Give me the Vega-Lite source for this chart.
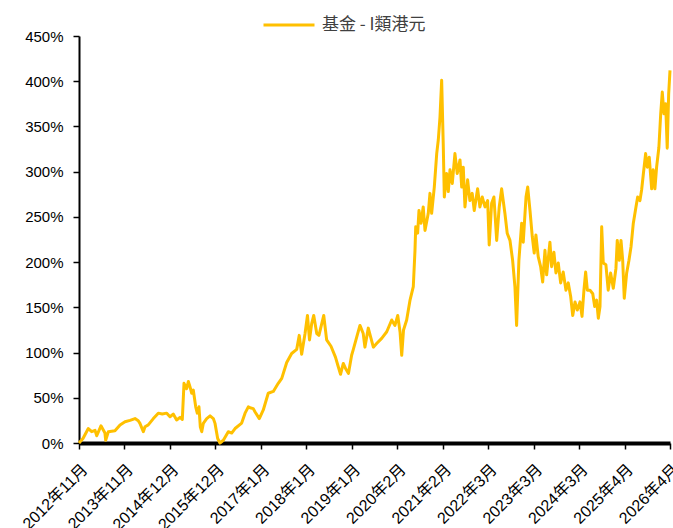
{
  "$schema": "https://vega.github.io/schema/vega-lite/v6.json",
  "autosize": {"type": "none"},
  "padding": {"left": 79, "top": 36, "right": 3, "bottom": 85},
  "width": 591,
  "height": 407,
  "background": "white",
  "config": {
    "view": {"stroke": null},
    "font": "Liberation Sans, Noto Sans CJK TC, sans-serif"
  },
  "data": {"values": [
    {"d":"2012-11-18","v":0},{"d":"2012-12-21","v":5},{"d":"2013-02-03","v":16},{"d":"2013-03-03","v":12.5},
    {"d":"2013-03-31","v":14},{"d":"2013-04-14","v":8},{"d":"2013-05-19","v":19},{"d":"2013-06-21","v":11},
    {"d":"2013-06-27","v":3},{"d":"2013-07-19","v":12.5},{"d":"2013-09-12","v":13.6},{"d":"2013-10-24","v":20},
    {"d":"2013-12-04","v":23.5},{"d":"2014-01-15","v":25},{"d":"2014-02-25","v":27},{"d":"2014-03-24","v":24.6},
    {"d":"2014-04-07","v":21.7},{"d":"2014-05-05","v":12.5},{"d":"2014-05-19","v":18},{"d":"2014-06-15","v":20},
    {"d":"2014-07-27","v":27},{"d":"2014-09-06","v":33},{"d":"2014-10-09","v":32},{"d":"2014-11-15","v":33},
    {"d":"2014-12-12","v":29},{"d":"2015-01-08","v":32},{"d":"2015-02-05","v":25.4},{"d":"2015-03-05","v":28.4},
    {"d":"2015-03-24","v":26},{"d":"2015-04-07","v":66},{"d":"2015-04-29","v":60},{"d":"2015-05-13","v":68},
    {"d":"2015-05-27","v":62},{"d":"2015-06-10","v":55},{"d":"2015-06-23","v":58.6},{"d":"2015-07-13","v":40},
    {"d":"2015-07-26","v":33},{"d":"2015-08-09","v":40},{"d":"2015-08-20","v":18},{"d":"2015-09-01","v":12.5},
    {"d":"2015-09-14","v":21.7},{"d":"2015-10-12","v":27},{"d":"2015-11-09","v":30},{"d":"2015-12-06","v":27},
    {"d":"2015-12-20","v":21.7},{"d":"2016-01-11","v":5},{"d":"2016-01-30","v":0},{"d":"2016-02-27","v":3},
    {"d":"2016-04-08","v":12.5},{"d":"2016-05-06","v":11},{"d":"2016-06-03","v":16},{"d":"2016-07-28","v":22},
    {"d":"2016-08-25","v":33},{"d":"2016-09-21","v":40},{"d":"2016-10-05","v":39},{"d":"2016-11-01","v":38},
    {"d":"2016-11-15","v":34.6},{"d":"2016-12-21","v":27},{"d":"2017-01-23","v":36.5},{"d":"2017-03-05","v":55},
    {"d":"2017-04-16","v":57},{"d":"2017-05-27","v":66},{"d":"2017-06-25","v":71.5},{"d":"2017-08-05","v":89},
    {"d":"2017-09-15","v":99},{"d":"2017-10-27","v":103.5},{"d":"2017-11-17","v":119},{"d":"2017-12-07","v":98},
    {"d":"2018-01-04","v":121},{"d":"2018-01-24","v":141},{"d":"2018-02-10","v":114},{"d":"2018-02-28","v":132},
    {"d":"2018-03-17","v":141},{"d":"2018-04-11","v":121},{"d":"2018-04-29","v":119},{"d":"2018-06-08","v":141},
    {"d":"2018-07-02","v":114},{"d":"2018-08-07","v":107},{"d":"2018-09-13","v":95},{"d":"2018-10-07","v":84},
    {"d":"2018-10-25","v":76},{"d":"2018-11-17","v":88},{"d":"2018-12-07","v":82},{"d":"2018-12-30","v":77},
    {"d":"2019-01-25","v":97},{"d":"2019-02-07","v":103},{"d":"2019-03-08","v":117},{"d":"2019-04-04","v":130},
    {"d":"2019-05-01","v":121},{"d":"2019-05-15","v":106},{"d":"2019-06-12","v":127},{"d":"2019-07-24","v":106},
    {"d":"2019-08-20","v":110},{"d":"2019-10-01","v":115.7},{"d":"2019-11-12","v":123},{"d":"2019-12-23","v":136},
    {"d":"2020-01-19","v":130},{"d":"2020-02-11","v":141},{"d":"2020-03-01","v":123},{"d":"2020-03-15","v":97},
    {"d":"2020-03-30","v":125},{"d":"2020-04-25","v":136},{"d":"2020-05-23","v":158},{"d":"2020-06-19","v":173},
    {"d":"2020-07-03","v":213},{"d":"2020-07-09","v":239},{"d":"2020-07-25","v":232},{"d":"2020-08-05","v":257},
    {"d":"2020-08-22","v":243},{"d":"2020-09-09","v":261},{"d":"2020-09-24","v":235},{"d":"2020-10-21","v":254},
    {"d":"2020-11-04","v":276},{"d":"2020-11-18","v":254},{"d":"2020-12-10","v":283},{"d":"2020-12-30","v":320},
    {"d":"2021-01-12","v":335},{"d":"2021-01-26","v":360},{"d":"2021-02-09","v":401},{"d":"2021-02-22","v":331},
    {"d":"2021-03-03","v":272},{"d":"2021-03-22","v":298},{"d":"2021-04-05","v":278},{"d":"2021-04-19","v":302},
    {"d":"2021-05-08","v":287},{"d":"2021-05-30","v":320},{"d":"2021-06-18","v":298},{"d":"2021-07-11","v":313},
    {"d":"2021-07-25","v":283},{"d":"2021-08-07","v":305},{"d":"2021-08-21","v":261},{"d":"2021-09-12","v":291},
    {"d":"2021-10-01","v":268},{"d":"2021-10-20","v":276},{"d":"2021-11-06","v":257},{"d":"2021-12-04","v":281},
    {"d":"2021-12-23","v":261},{"d":"2022-01-11","v":272},{"d":"2022-02-03","v":261},{"d":"2022-02-25","v":268},
    {"d":"2022-03-10","v":219},{"d":"2022-03-30","v":265},{"d":"2022-04-18","v":272},{"d":"2022-05-11","v":224},
    {"d":"2022-06-01","v":261},{"d":"2022-06-21","v":281},{"d":"2022-07-18","v":254},{"d":"2022-08-06","v":232},
    {"d":"2022-08-29","v":224},{"d":"2022-09-20","v":202},{"d":"2022-10-09","v":173},{"d":"2022-10-23","v":130},
    {"d":"2022-11-11","v":202},{"d":"2022-12-04","v":243},{"d":"2022-12-17","v":222},{"d":"2023-01-09","v":272},
    {"d":"2023-01-23","v":283},{"d":"2023-02-11","v":257},{"d":"2023-03-02","v":228},{"d":"2023-03-18","v":210},
    {"d":"2023-04-01","v":230},{"d":"2023-04-20","v":206},{"d":"2023-05-10","v":195},{"d":"2023-05-27","v":178},
    {"d":"2023-06-15","v":213},{"d":"2023-06-29","v":186},{"d":"2023-07-26","v":222},{"d":"2023-08-09","v":195},
    {"d":"2023-08-28","v":211},{"d":"2023-09-14","v":188},{"d":"2023-10-03","v":199},{"d":"2023-10-23","v":177},
    {"d":"2023-11-13","v":189},{"d":"2023-12-06","v":169},{"d":"2023-12-25","v":177},{"d":"2024-01-14","v":162},
    {"d":"2024-01-31","v":141},{"d":"2024-02-19","v":156},{"d":"2024-03-09","v":147},{"d":"2024-03-31","v":156},
    {"d":"2024-04-17","v":140},{"d":"2024-05-03","v":169},{"d":"2024-05-17","v":189},{"d":"2024-05-31","v":169},
    {"d":"2024-06-22","v":169},{"d":"2024-07-15","v":165},{"d":"2024-07-31","v":151},{"d":"2024-08-16","v":158},
    {"d":"2024-08-30","v":138},{"d":"2024-09-13","v":151},{"d":"2024-09-27","v":239},{"d":"2024-10-10","v":199},
    {"d":"2024-11-01","v":197},{"d":"2024-11-20","v":169},{"d":"2024-12-10","v":188},{"d":"2025-01-01","v":171},
    {"d":"2025-01-23","v":193},{"d":"2025-02-03","v":224},{"d":"2025-02-20","v":202},{"d":"2025-03-06","v":224},
    {"d":"2025-03-20","v":202},{"d":"2025-04-02","v":160},{"d":"2025-04-22","v":188},{"d":"2025-05-11","v":202},
    {"d":"2025-05-28","v":217},{"d":"2025-06-16","v":243},{"d":"2025-07-08","v":261},{"d":"2025-07-22","v":272},
    {"d":"2025-08-10","v":268},{"d":"2025-08-24","v":280},{"d":"2025-09-06","v":296},{"d":"2025-09-26","v":320},
    {"d":"2025-10-10","v":305},{"d":"2025-10-26","v":316},{"d":"2025-11-15","v":281},{"d":"2025-11-28","v":302},
    {"d":"2025-12-12","v":281},{"d":"2025-12-26","v":305},{"d":"2026-01-14","v":327},{"d":"2026-01-29","v":364},
    {"d":"2026-02-11","v":388},{"d":"2026-02-25","v":364},{"d":"2026-03-11","v":375},{"d":"2026-03-24","v":326},
    {"d":"2026-04-05","v":386},{"d":"2026-04-16","v":412}
  ]},
  "mark": {"type": "line", "strokeWidth": 3, "strokeJoin": "round", "clip": false},
  "encoding": {
    "x": {
      "field": "d",
      "type": "temporal",
      "scale": {"type": "utc", "domain": [
        {"year": 2012, "month": 11, "date": 18, "utc": true},
        {"year": 2026, "month": 4, "date": 16, "utc": true}
      ]},
      "axis": {
        "title": null,
        "grid": false,
        "values": [
          {"year": 2012, "month": 11, "date": 18, "utc": true},
          {"year": 2013, "month": 11, "date": 29, "utc": true},
          {"year": 2014, "month": 12, "date": 11, "utc": true},
          {"year": 2015, "month": 12, "date": 23, "utc": true},
          {"year": 2017, "month": 1, "date": 3, "utc": true},
          {"year": 2018, "month": 1, "date": 14, "utc": true},
          {"year": 2019, "month": 1, "date": 26, "utc": true},
          {"year": 2020, "month": 2, "date": 7, "utc": true},
          {"year": 2021, "month": 2, "date": 17, "utc": true},
          {"year": 2022, "month": 3, "date": 1, "utc": true},
          {"year": 2023, "month": 3, "date": 13, "utc": true},
          {"year": 2024, "month": 3, "date": 24, "utc": true},
          {"year": 2025, "month": 4, "date": 4, "utc": true},
          {"year": 2026, "month": 4, "date": 16, "utc": true}
        ],
        "labelExpr": "utcFormat(datum.value, '%Y年%-m月')",
        "labelAngle": -45,
        "labelAlign": "right",
        "labelBaseline": "top",
        "labelFontSize": 16,
        "labelColor": "#000000",
        "labelPadding": 12,
        "labelOverlap": false,
        "labelFlush": false,
        "domainColor": "#000000",
        "domainWidth": 4,
        "tickColor": "#000000",
        "tickWidth": 1.5,
        "tickSize": 6
      }
    },
    "y": {
      "field": "v",
      "type": "quantitative",
      "scale": {"domain": [0, 450], "nice": false},
      "axis": {
        "title": null,
        "grid": false,
        "values": [0, 50, 100, 150, 200, 250, 300, 350, 400, 450],
        "labelExpr": "datum.value + '%'",
        "labelFontSize": 15,
        "labelColor": "#000000",
        "labelPadding": 10,
        "domainColor": "#000000",
        "domainWidth": 2,
        "tickColor": "#000000",
        "tickWidth": 1.5,
        "tickSize": 6
      }
    },
    "color": {
      "datum": "基金 - I類港元",
      "scale": {"range": ["#FFC000"]},
      "legend": {
        "title": null,
        "orient": "none",
        "legendX": 183,
        "legendY": -38,
        "symbolType": "stroke",
        "symbolSize": 2601,
        "symbolStrokeWidth": 3,
        "labelFontSize": 17,
        "labelColor": "#404040",
        "labelFont": "Noto Sans CJK TC",
        "labelOffset": 6
      }
    }
  }
}
